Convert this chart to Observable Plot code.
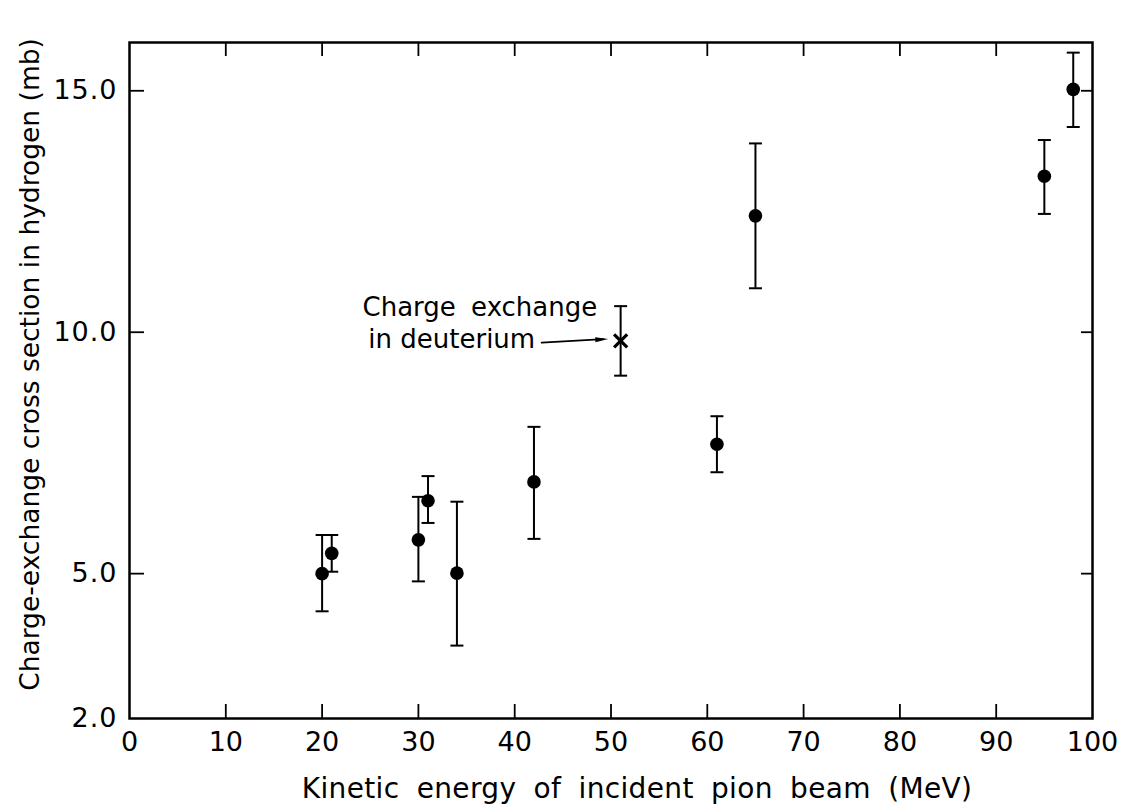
<!DOCTYPE html>
<html>
<head>
<meta charset="utf-8">
<script src="https://cdn.jsdelivr.net/npm/d3@7"></script>
<script src="https://cdn.jsdelivr.net/npm/@observablehq/plot@0.6"></script>
<style>
  html, body { margin: 0; padding: 0; background: #fff; }
  #chart svg { display: block; }
</style>
</head>
<body>
<div id="chart"></div>
<script>
// Hydrogen charge-exchange measurements
const energy  = [20, 21, 30, 31, 34, 42, 61, 65, 95, 98];
const sigma   = [5.00, 5.42, 5.70, 6.51, 5.01, 6.90, 7.68, 12.41, 13.23, 15.03];
const errLow  = [4.22, 5.04, 4.84, 6.05, 3.51, 5.72, 7.10, 10.91, 12.45, 14.25];
const errHigh = [5.80, 5.80, 6.59, 7.02, 6.49, 8.04, 8.26, 13.91, 13.98, 15.79];

// Deuterium point
const deutEnergy = [51];
const deutSigma  = [9.82];
const deutLow    = [9.10];
const deutHigh   = [10.54];

// Axis ticks
const xTicks = [0, 10, 20, 30, 40, 50, 60, 70, 80, 90, 100];
const xInnerTicks = [10, 20, 30, 40, 50, 60, 70, 80, 90];
const yTickLabels = [2, 5, 10, 15];
const yInnerTicks = [5, 10, 15];

// Texts
const xLabel = "Kinetic energy of incident pion beam (MeV)";
const yLabel = "Charge-exchange cross section in hydrogen (mb)";
const noteLines = ["Charge exchange", "in deuterium"];
const noteX = [24.2, 24.8];
const noteY = [10.51, 9.85];
const arrowX = [42.8, 49.2];
const arrowY = [9.785, 9.855];

const hydrogen = energy.map((e, i) => ({e, s: sigma[i], lo: errLow[i], hi: errHigh[i]}));
const deut = deutEnergy.map((e, i) => ({e, s: deutSigma[i], lo: deutLow[i], hi: deutHigh[i]}));
const notes = noteLines.map((t, i) => ({t, x: noteX[i], y: noteY[i]}));
const arrowPts = arrowX.map((x, i) => ({x, y: arrowY[i]}));
const arrowTip = [arrowPts[arrowPts.length - 1]];
const capsH = hydrogen.flatMap(d => [{e: d.e, v: d.lo}, {e: d.e, v: d.hi}]);
const capsD = deut.flatMap(d => [{e: d.e, v: d.lo}, {e: d.e, v: d.hi}]);

const capSymbol = {
  draw(context, size) {
    const r = Math.sqrt(size / Math.PI);
    context.moveTo(-r, 0);
    context.lineTo(r, 0);
  }
};
const headSymbol = {
  draw(context, size) {
    const r = Math.sqrt(size / Math.PI);
    context.moveTo(r, 0);
    context.lineTo(-r * 1.6, -r * 0.5);
    context.lineTo(-r * 1.6, r * 0.5);
    context.closePath();
  }
};

const font = "DejaVu Sans";
const yTickText = yTickLabels.map(d => d.toFixed(1));

const chart = Plot.plot({
  width: 1127,
  height: 806,
  marginLeft: 129,
  marginRight: 35,
  marginTop: 42,
  marginBottom: 88,
  style: {fontFamily: font, color: "black", background: "white", fontSize: "27px"},
  x: {domain: [0, 100]},
  y: {domain: [2, 16]},
  marks: [
    Plot.frame({stroke: "black", strokeWidth: 2.5}),
    // tick labels
    Plot.axisX({anchor: "bottom", ticks: xTicks, tickSize: 0, tickPadding: 13, fontSize: 27, label: null, tickFormat: d => String(d)}),
    Plot.axisY({anchor: "left", ticks: yTickLabels, tickSize: 0, tickPadding: 12, fontSize: 27, label: null, tickFormat: d => d.toFixed(1)}),
    // inward ticks
    Plot.axisX({anchor: "bottom", ticks: xInnerTicks, tickSize: -14, text: null, label: null, strokeWidth: 1.8}),
    Plot.axisX({anchor: "top", ticks: xInnerTicks, tickSize: -13, text: null, label: null, strokeWidth: 1.8}),
    Plot.axisY({anchor: "left", ticks: yInnerTicks, tickSize: -15, text: null, label: null, strokeWidth: 1.8}),
    Plot.axisY({anchor: "right", ticks: yInnerTicks, tickSize: -12, text: null, label: null, strokeWidth: 1.8}),
    // axis titles
    Plot.text([xLabel], {frameAnchor: "bottom", textAnchor: "middle", dy: 71, dx: 26, fontSize: 28, fill: "black", lineAnchor: "middle"}),
    Plot.text([yLabel], {frameAnchor: "left", textAnchor: "middle", dx: -99, dy: -16, rotate: -90, fontSize: 26.5, fill: "black", lineAnchor: "middle"}),
    // error bars
    Plot.ruleX(hydrogen, {x: "e", y1: "lo", y2: "hi", stroke: "black", strokeWidth: 2}),
    Plot.dot(capsH, {x: "e", y: "v", symbol: capSymbol, r: 6.5, stroke: "black", strokeWidth: 2, fill: "none"}),
    Plot.ruleX(deut, {x: "e", y1: "lo", y2: "hi", stroke: "black", strokeWidth: 2}),
    Plot.dot(capsD, {x: "e", y: "v", symbol: capSymbol, r: 6.5, stroke: "black", strokeWidth: 2, fill: "none"}),
    // points
    Plot.dot(hydrogen, {x: "e", y: "s", r: 6.8, fill: "black", stroke: "none"}),
    Plot.dot(deut, {x: "e", y: "s", symbol: "times", r: 6, stroke: "black", strokeWidth: 3.2, fill: "none"}),
    // annotation
    Plot.text(notes, {x: "x", y: "y", text: "t", textAnchor: "start", fontSize: 26, fill: "black", lineAnchor: "middle"}),
    Plot.line(arrowPts, {x: "x", y: "y", stroke: "black", strokeWidth: 1.8}),
    Plot.dot(arrowTip, {x: "x", y: "y", symbol: headSymbol, r: 5, rotate: -3, fill: "black", stroke: "none"})
  ]
});

// typographic spacing to approximate the wide lettering of the original
d3.select(chart).selectAll("text").each(function () {
  const t = this.textContent;
  const s = d3.select(this);
  if (t === xLabel) s.style("word-spacing", "8px").style("letter-spacing", "0.35px");
  else if (t === noteLines[0]) s.style("word-spacing", "7px");
  else if (yTickText.includes(t)) s.style("letter-spacing", "1px");
});

document.getElementById("chart").appendChild(chart);
</script>
</body>
</html>
